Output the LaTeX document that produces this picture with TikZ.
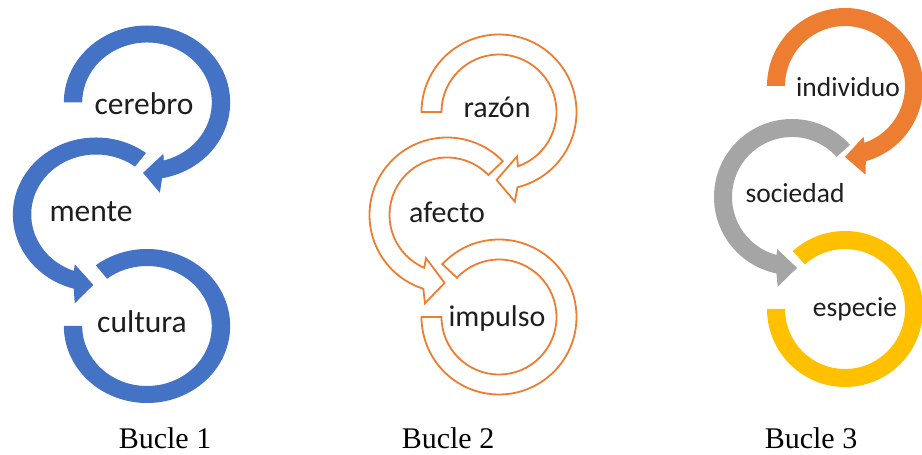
\documentclass[tikz,border=0pt]{standalone}
\usepackage{fontspec}
\setmainfont{Liberation Serif}
\newfontfamily\lblfont{Carlito}
\definecolor{ringblue}{HTML}{4472C4}
\definecolor{ringorange}{HTML}{ED7D31}
\definecolor{ringgray}{HTML}{A5A5A5}
\definecolor{ringyellow}{HTML}{FFC000}
\definecolor{lbltext}{HTML}{1E1E1E}

% arrowhead geometry (degrees before the tip, radii)
\def\hdBi{19.5}\def\hdBo{10.5}\def\hdAi{18}\def\hdAo{13.5}
\def\hdRbi{53.5}\def\hdRbo{91}\def\hdRt{70.5}

% #1 style, #2 centre, #3 xscale, #4 inner r, #5 outer r, #6 start angle, #7 tip angle, #8 direction (1 ccw, -1 cw)
\newcommand\arrowring[8]{%
  \begin{scope}[shift={#2},xscale=#3]
    \pgfmathsetmacro\ringAi{#7-#8*\hdAi}
    \pgfmathsetmacro\ringAo{#7-#8*\hdAo}
    \pgfmathsetmacro\ringBi{#7-#8*\hdBi}
    \pgfmathsetmacro\ringBo{#7-#8*\hdBo}
    \path[#1] (#6:#5) arc[start angle=#6,end angle=\ringAo,radius=#5]
      -- (\ringBo:\hdRbo) -- (#7:\hdRt) -- (\ringBi:\hdRbi)
      -- (\ringAi:#4) arc[start angle=\ringAi,end angle=#6,radius=#4] -- cycle;
  \end{scope}}

% #1 style, #2 centre, #3 xscale, #4 inner r, #5 outer r, #6 start angle, #7 end angle
\newcommand\plainring[7]{%
  \begin{scope}[shift={#2},xscale=#3]
    \path[#1] (#6:#5) arc[start angle=#6,end angle=#7,radius=#5]
      -- (#7:#4) arc[start angle=#7,end angle=#6,radius=#4] -- cycle;
  \end{scope}}

\tikzset{
  word/.style={font=\lblfont\fontsize{30}{36}\selectfont,text=lbltext,anchor=base,inner sep=0pt},
  bigword/.style={word,font=\lblfont\fontsize{31.5}{38}\selectfont},
  smallword/.style={word,font=\lblfont\fontsize{27.5}{33}\selectfont},
  caption/.style={font=\fontsize{30}{36}\selectfont,text=black,anchor=base,inner sep=0pt},
  solidblue/.style={fill=ringblue},
  hollow/.style={draw=ringorange,line width=1.8pt,fill=white,line join=miter},
  solidorange/.style={fill=ringorange},
  solidgray/.style={fill=ringgray},
  solidyellow/.style={fill=ringyellow}
}

\begin{document}
\begin{tikzpicture}[x=1pt,y=1pt]
\useasboundingbox (0,0) rectangle (922,455);

% Bucle 1: cerebro - mente - cultura
\plainring{solidblue}{(147,129)}{1.08}{60}{77}{128}{-180}
\arrowring{solidblue}{(96,240.5)}{1.08}{60}{77}{53}{268}{1}
\arrowring{solidblue}{(147,352.5)}{1.08}{60}{77}{180}{-93}{-1}
\node[bigword] (cerebro) at (144,340) {cerebro};
\node[bigword] (mente) at (91,233) {mente};
\node[bigword] (cultura) at (142,122) {cultura};

% Bucle 2: razón - afecto - impulso (outlined)
\begingroup
\def\hdBi{24}\def\hdBo{12}\def\hdAi{21.3}\def\hdAo{15.8}
\def\hdRbi{48}\def\hdRbo{91}\def\hdRt{68}
\plainring{hollow}{(499,138)}{1.0}{57.5}{77.5}{137}{-180}
\arrowring{hollow}{(447,240)}{1.0}{57.5}{77.5}{44}{268}{1}
\arrowring{hollow}{(499,343)}{1.0}{57.5}{77.5}{180}{-92}{-1}
\endgroup
\node[word] (razon) at (497,337) {razón};
\node[word] (afecto) at (447,232) {afecto};
\node[word] (impulso) at (497,128) {impulso};

% Bucle 3: individuo - sociedad - especie
\begingroup
\def\hdBi{20}\def\hdBo{13}\def\hdAi{18.9}\def\hdAo{15.5}
\def\hdRbi{54}\def\hdRbo{91}\def\hdRt{71}
\plainring{solidyellow}{(845,146)}{1.0}{60}{78}{132}{-180}
\arrowring{solidgray}{(792,258)}{1.0}{60}{78}{42}{274}{1}
\arrowring{solidorange}{(845,369)}{1.0}{60}{78}{180}{-90}{-1}
\endgroup
\node[smallword] (individuo) at (848,358) {individuo};
\node[smallword] (sociedad) at (795,252) {sociedad};
\node[smallword] (especie) at (855,138) {especie};

% captions
\node[caption] (b1) at (165,6) {Bucle 1};
\node[caption] (b2) at (448,6) {Bucle 2};
\node[caption] (b3) at (811,6) {Bucle 3};
\end{tikzpicture}
\end{document}
